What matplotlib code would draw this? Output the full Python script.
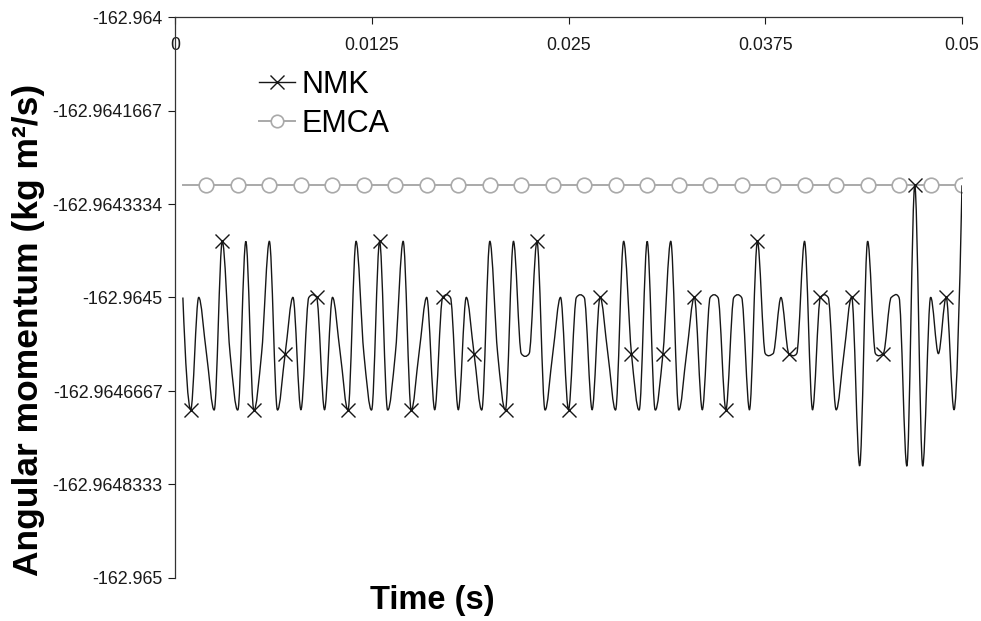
import numpy as np
import matplotlib
matplotlib.use("Agg")
import matplotlib.pyplot as plt
from matplotlib.path import Path
from matplotlib.patches import PathPatch
from matplotlib.lines import Line2D

plt.rcParams["font.family"] = ["Liberation Sans", "DejaVu Sans"]

# Sample times (s)
time_s = [
    0.0005, 0.001, 0.0015, 0.002, 0.0025, 0.003, 0.0035, 0.004, 0.0045, 0.005,
    0.0055, 0.006, 0.0065, 0.007, 0.0075, 0.008, 0.0085, 0.009, 0.0095, 0.010,
    0.0105, 0.011, 0.0115, 0.012, 0.0125, 0.013, 0.0135, 0.014, 0.0145, 0.015,
    0.0155, 0.016, 0.0165, 0.017, 0.0175, 0.018, 0.0185, 0.019, 0.0195, 0.020,
    0.0205, 0.021, 0.0215, 0.022, 0.0225, 0.023, 0.0235, 0.024, 0.0245, 0.025,
    0.0255, 0.026, 0.0265, 0.027, 0.0275, 0.028, 0.0285, 0.029, 0.0295, 0.030,
    0.0305, 0.031, 0.0315, 0.032, 0.0325, 0.033, 0.0335, 0.034, 0.0345, 0.035,
    0.0355, 0.036, 0.0365, 0.037, 0.0375, 0.038, 0.0385, 0.039, 0.0395, 0.040,
    0.0405, 0.041, 0.0415, 0.042, 0.0425, 0.043, 0.0435, 0.044, 0.0445, 0.045,
    0.0455, 0.046, 0.0465, 0.047, 0.0475, 0.048, 0.0485, 0.049, 0.0495, 0.050,
]

# Angular momentum, NMK integrator (kg m^2/s)
nmk = [
    -162.9645, -162.9647, -162.9645, -162.9646, -162.9647, -162.9644, -162.9646, -162.9647, -162.9644, -162.9647,
    -162.9646, -162.9644, -162.9647, -162.9646, -162.9645, -162.9647, -162.9645, -162.9645, -162.9647, -162.9645,
    -162.9646, -162.9647, -162.9644, -162.9646, -162.9647, -162.9644, -162.9647, -162.9646, -162.9644, -162.9647,
    -162.9646, -162.9645, -162.9647, -162.9645, -162.9645, -162.9647, -162.9645, -162.9646, -162.9647, -162.9644,
    -162.9646, -162.9647, -162.9644, -162.9646, -162.9646, -162.9644, -162.9647, -162.9646, -162.9645, -162.9647,
    -162.9645, -162.9645, -162.9647, -162.9645, -162.9646, -162.9647, -162.9644, -162.9646, -162.9647, -162.9644,
    -162.9647, -162.9646, -162.9644, -162.9647, -162.9646, -162.9645, -162.9647, -162.9645, -162.9645, -162.9647,
    -162.9645, -162.9645, -162.9647, -162.9644, -162.9646, -162.9646, -162.9645, -162.9646, -162.9646, -162.9644,
    -162.9647, -162.9645, -162.9645, -162.9647, -162.9646, -162.9645, -162.9648, -162.9644, -162.9646, -162.9646,
    -162.9645, -162.9645, -162.9648, -162.9643, -162.9648, -162.9645, -162.9646, -162.9645, -162.9647, -162.9643,
]

# Angular momentum, EMCA integrator (conserved)
emca = [-162.9643] * len(time_s)

x_ticks = [0, 0.0125, 0.025, 0.0375, 0.05]
x_tick_labels = ["0", "0.0125", "0.025", "0.0375", "0.05"]
y_ticks = [-162.964, -162.9641667, -162.9643334, -162.9645,
           -162.9646667, -162.9648333, -162.965]
y_tick_labels = ["-162.964", "-162.9641667", "-162.9643334", "-162.9645",
                 "-162.9646667", "-162.9648333", "-162.965"]

NMK_COLOR = "#161616"
EMCA_COLOR = "#a9a9a9"


def pchip_slopes(x, y):
    """Shape-preserving (Fritsch-Carlson) tangents."""
    h = np.diff(x)
    d = np.diff(y) / h
    m = np.zeros_like(y)
    for i in range(1, len(y) - 1):
        if d[i - 1] * d[i] > 0:
            w1 = 2 * h[i] + h[i - 1]
            w2 = h[i] + 2 * h[i - 1]
            m[i] = (w1 + w2) / (w1 / d[i - 1] + w2 / d[i])

    def end(h0, h1, d0, d1):
        mm = ((2 * h0 + h1) * d0 - h0 * d1) / (h0 + h1)
        if np.sign(mm) != np.sign(d0):
            mm = 0.0
        elif np.sign(d0) != np.sign(d1) and abs(mm) > 3 * abs(d0):
            mm = 3 * d0
        return mm

    m[0] = end(h[0], h[1], d[0], d[1])
    m[-1] = end(h[-1], h[-2], d[-1], d[-2])
    return m


def spline_slopes(x, y, looseness=0.2):
    """Mostly shape-preserving tangents with a little Catmull-Rom rounding."""
    x = np.asarray(x, dtype=float)
    y = np.asarray(y, dtype=float)
    m_pchip = pchip_slopes(x, y)
    m_cr = np.gradient(y, x)
    return (1 - looseness) * m_pchip + looseness * m_cr


def smooth_path(x, y):
    """Cubic Bezier path through the samples (spline line style)."""
    x = np.asarray(x, dtype=float)
    y = np.asarray(y, dtype=float)
    m = spline_slopes(x, y)
    verts = [(x[0], y[0])]
    codes = [Path.MOVETO]
    for i in range(len(x) - 1):
        h = x[i + 1] - x[i]
        verts += [(x[i] + h / 3, y[i] + m[i] * h / 3),
                  (x[i + 1] - h / 3, y[i + 1] - m[i + 1] * h / 3),
                  (x[i + 1], y[i + 1])]
        codes += [Path.CURVE4] * 3
    return Path(verts, codes)


fig = plt.figure(figsize=(9.81, 6.21), dpi=100)
ax = fig.add_axes([175 / 981, 1 - 578 / 621, (962 - 175) / 981, (578 - 17) / 621])

# EMCA: constant line with open circles every fourth sample
ax.plot(time_s, emca, color=EMCA_COLOR, lw=1.4, marker="o", markevery=(3, 4),
        ms=10.5, mfc="white", mec=EMCA_COLOR, mew=1.2, zorder=2)

# NMK: smooth spline through the samples, crosses every fourth sample
ax.add_patch(PathPatch(smooth_path(time_s, nmk), facecolor="none",
                       edgecolor=NMK_COLOR, lw=1.0, zorder=3))
ax.plot(time_s, nmk, ls="none", marker="x", markevery=(1, 4), ms=10.5,
        mew=1.0, color=NMK_COLOR, zorder=4)

ax.set_xlim(0, 0.05)
ax.set_ylim(-162.965, -162.964)

# x axis runs along the top edge, labels hang below it
ax.spines["bottom"].set_position(("axes", 1.0))
ax.spines["top"].set_visible(False)
ax.spines["right"].set_visible(False)
for s in ("bottom", "left"):
    ax.spines[s].set_color("#333333")
    ax.spines[s].set_linewidth(0.9)

ax.set_xticks(x_ticks, x_tick_labels)
ax.set_yticks(y_ticks, y_tick_labels)
ax.tick_params(axis="x", direction="out", length=5, width=0.8, pad=9.5,
               labelsize=12.9, colors="#1a1a1a")
ax.tick_params(axis="y", direction="out", length=5, width=0.8, pad=4,
               labelsize=12.9, colors="#1a1a1a")

ax.set_xlabel("Time (s)", fontsize=23.5, fontweight="bold", va="center")
ax.xaxis.set_label_coords((432.5 - 175) / (962 - 175), (578 - 601) / 561)
ax.set_ylabel("Angular momentum (kg m\u00b2/s)", fontsize=25.5,
              fontweight="bold", va="center")
ax.yaxis.set_label_coords((29 - 175) / (962 - 175), (578 - 330) / 561)

handles = [
    Line2D([], [], color=NMK_COLOR, lw=1.0, marker="x", ms=10, mew=1.0),
    Line2D([], [], color=EMCA_COLOR, lw=1.4, marker="o", ms=9,
           mfc="white", mec=EMCA_COLOR, mew=1.2),
]
fig.legend(handles, ["NMK", "EMCA"], loc="upper left",
           bbox_to_anchor=(259 / 981, 1 - 70 / 621), frameon=False,
           fontsize=22, handlelength=1.18, handletextpad=0.2,
           labelspacing=0.3, borderpad=0, borderaxespad=0)

fig.savefig("out.png", dpi=100)
